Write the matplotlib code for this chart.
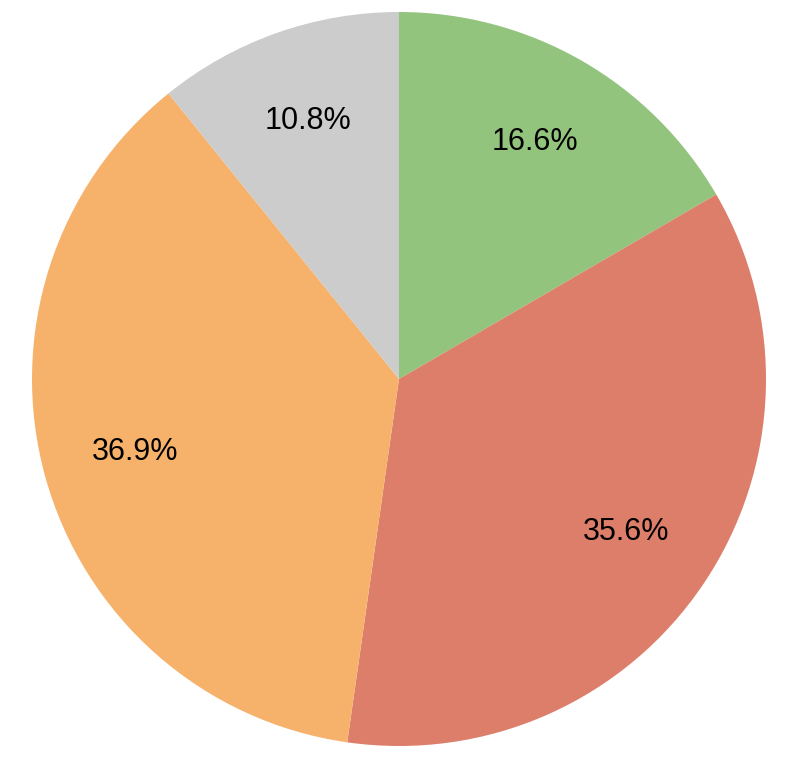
import matplotlib
matplotlib.use("Agg")
import matplotlib.pyplot as plt

# slice shares in percent, clockwise from 12 o'clock
labels = ["Green", "Red", "Orange", "Gray"]
shares = [16.6, 35.6, 36.9, 10.8]
colors = ["#93c47d", "#dd7e6b", "#f6b26b", "#cccccc"]

W, H = 793, 765
fig = plt.figure(figsize=(W / 100, H / 100), dpi=100)
cx, cy, r = 399, 379, 367
ax = fig.add_axes([(cx - r) / W, (H - cy - r) / H, 2 * r / W, 2 * r / H])

ax.pie(shares, colors=colors, startangle=90, counterclock=False,
       autopct="%.1f%%", pctdistance=0.745, radius=1.0,
       wedgeprops=dict(linewidth=0),
       textprops=dict(fontsize=22, family="Liberation Sans", color="black"))
ax.set_xlim(-1, 1)
ax.set_ylim(-1, 1)
ax.set_aspect("equal")
ax.axis("off")

fig.savefig("out.png", dpi=100)
